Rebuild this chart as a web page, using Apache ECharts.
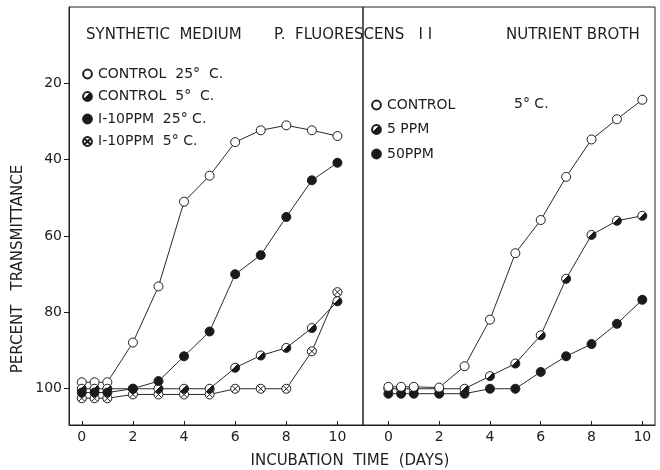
<!DOCTYPE html>
<html>
<head>
<meta charset="utf-8">
<script src="https://cdn.jsdelivr.net/npm/echarts@6.0.0/dist/echarts.min.js"></script>
<style>
	html, body { margin: 0; padding: 0; background: #fff; }
	#main { width: 660px; height: 470px; }
</style>
</head>
<body>
<div id="main"></div>
<script>
// incubation days (same sampling on both panels)
var days = [0, 0.5, 1, 2, 3, 4, 5, 6, 7, 8, 9, 10];

// synthetic medium (left panel), percent transmittance
var synControl25 = [98.3, 98.3, 98.3, 87.9, 73.2, 51.0, 44.2, 35.4, 32.3, 31.0, 32.3, 33.8];
var synControl5 = [100, 100, 100, 100, 100, 100, 100, 94.5, 91.3, 89.3, 84.1, 77.1];
var synI10ppm25 = [101, 101, 101, 100, 98, 91.5, 85, 70, 65, 55, 45.4, 40.8];
var synI10ppm5 = [102.5, 102.5, 102.5, 101.5, 101.5, 101.5, 101.5, 100, 100, 100, 90.2, 74.7];

// nutrient broth 5 C (right panel)
var brothControl = [99.5, 99.5, 99.5, 99.7, 94.1, 81.9, 64.5, 55.8, 44.5, 34.7, 29.4, 24.3];
var broth5ppm = [100, 100, 100, 100, 100, 96.7, 93.4, 86.0, 71.2, 59.7, 56.0, 54.7];
var broth50ppm = [101.3, 101.3, 101.3, 101.3, 101.3, 100, 100, 95.6, 91.5, 88.3, 83.0, 76.7];

var dayTicks = [0, 2, 4, 6, 8, 10];
var pctTicks = [20, 40, 60, 80, 100];

var ink = '#1e1e1e';
var font = 'DejaVu Sans';

function pairs(vals) {
	return days.map(function(d, i) {
		return [d, vals[i]];
	});
}

// marker looks
var openMark = { symbol: 'circle', itemStyle: { color: '#fff', borderColor: ink, borderWidth: 1 } };
var darkMark = { symbol: 'circle', itemStyle: { color: '#1a1a1a', borderColor: ink, borderWidth: 1 } };
var halfMark = {
	symbol: 'circle',
	itemStyle: {
		color: {
			type: 'linear', x: 0, y: 0, x2: 1, y2: 1,
			colorStops: [
				{ offset: 0, color: '#fff' }, { offset: 0.45, color: '#fff' },
				{ offset: 0.45, color: '#1a1a1a' }, { offset: 1, color: '#1a1a1a' }
			]
		},
		borderColor: ink, borderWidth: 1
	}
};
var crossMark = {
	symbol: 'path://M10,0 A10,10 0 1,1 -10,0 A10,10 0 1,1 10,0 Z M-7,-7 L7,7 M7,-7 L-7,7',
	itemStyle: { color: '#fff', borderColor: ink, borderWidth: 1 }
};

function makeSeries(name, vals, mark, axis) {
	return {
		name: name,
		type: 'line',
		xAxisIndex: axis,
		yAxisIndex: axis,
		data: pairs(vals),
		symbol: mark.symbol,
		symbolSize: 9,
		showAllSymbol: true,
		itemStyle: mark.itemStyle,
		lineStyle: { color: '#2a2a2a', width: 1 },
		animation: false
	};
}

function xAxisFor(idx, min, max) {
	return {
		type: 'value', gridIndex: idx, min: min, max: max,
		splitLine: { show: false },
		axisLine: { show: true, onZero: false, lineStyle: { color: ink, width: 1 } },
		axisTick: { inside: true, length: 4, customValues: dayTicks, lineStyle: { color: ink } },
		axisLabel: { customValues: dayTicks, margin: 5, color: ink, fontSize: 14, fontFamily: font }
	};
}

function yAxisFor(idx, labels) {
	return {
		type: 'value', gridIndex: idx, min: 0, max: 109.5, inverse: true,
		splitLine: { show: false },
		axisLine: { show: labels, onZero: false, lineStyle: { color: ink, width: 1 } },
		axisTick: { show: labels, length: 5, customValues: pctTicks, lineStyle: { color: ink } },
		axisLabel: { show: labels, customValues: pctTicks, margin: 7, color: ink, fontSize: 14, fontFamily: font }
	};
}

var chart = echarts.init(document.getElementById('main'));

var txt = { fill: ink, font: '15px "DejaVu Sans"' };

chart.setOption({
	backgroundColor: '#fff',
	animation: false,
	grid: [
		{ left: 69, top: 7, width: 294, height: 418, show: true, borderColor: ink, borderWidth: 1 },
		{ left: 363, top: 7, width: 292, height: 418, show: true, borderColor: ink, borderWidth: 1 }
	],
	xAxis: [xAxisFor(0, -0.5, 11), xAxisFor(1, -1, 10.5)],
	yAxis: [yAxisFor(0, true), yAxisFor(1, false)],
	legend: [{
		data: ['CONTROL  25°  C.', 'CONTROL  5°  C.', 'I-10PPM  25° C.', 'I-10PPM  5° C.'],
		orient: 'vertical', left: 81, top: 67, padding: 0,
		itemWidth: 11, itemHeight: 11, itemGap: 8.5,
		lineStyle: { opacity: 0 },
		textStyle: { color: ink, fontSize: 14, fontFamily: font },
		selectedMode: false
	}, {
		data: ['CONTROL', '5 PPM', '50PPM'],
		orient: 'vertical', left: 370, top: 98, padding: 0,
		itemWidth: 11, itemHeight: 11, itemGap: 10.5,
		lineStyle: { opacity: 0 },
		textStyle: { color: ink, fontSize: 14, fontFamily: font },
		selectedMode: false
	}],
	graphic: [
		{ type: 'text', left: 86, top: 28, style: { text: 'SYNTHETIC  MEDIUM', fill: txt.fill, font: txt.font } },
		{ type: 'text', left: 274, top: 28, style: { text: 'P.  FLUORESCENS   I I', fill: txt.fill, font: txt.font } },
		{ type: 'text', left: 506, top: 28, style: { text: 'NUTRIENT BROTH', fill: txt.fill, font: txt.font } },
		{ type: 'text', left: 514, top: 97, style: { text: '5° C.', fill: ink, font: '14px "DejaVu Sans"' } },
		{ type: 'text', x: 350, y: 461, style: { text: 'INCUBATION  TIME  (DAYS)', fill: ink, font: '15px "DejaVu Sans"', align: 'center', verticalAlign: 'middle' } },
		{ type: 'text', x: 18, y: 269, rotation: Math.PI / 2, style: { text: 'PERCENT   TRANSMITTANCE', fill: ink, font: '15px "DejaVu Sans"', align: 'center', verticalAlign: 'middle' } }
	],
	series: [
		makeSeries('CONTROL  25°  C.', synControl25, openMark, 0),
		makeSeries('I-10PPM  5° C.', synI10ppm5, crossMark, 0),
		makeSeries('CONTROL  5°  C.', synControl5, halfMark, 0),
		makeSeries('I-10PPM  25° C.', synI10ppm25, darkMark, 0),
		makeSeries('50PPM', broth50ppm, darkMark, 1),
		makeSeries('5 PPM', broth5ppm, halfMark, 1),
		makeSeries('CONTROL', brothControl, openMark, 1)
	]
});
</script>
</body>
</html>
